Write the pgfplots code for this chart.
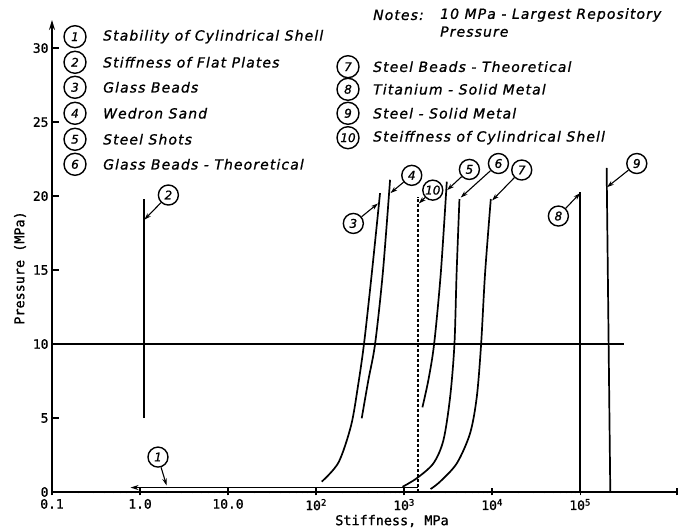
\documentclass[border=0pt]{standalone}
\usepackage{fontspec}
\setmainfont{DejaVu Sans}
\newfontfamily\monofont{DejaVu Sans Mono}[FakeBold=1]
\newfontfamily\lgdfam{DejaVu Sans}[LetterSpace=8, FakeBold=1]
\newfontfamily\numfam{DejaVu Sans}[FakeBold=1]
\usepackage{pgfplots}
\pgfplotsset{compat=1.18}
\usetikzlibrary{arrows.meta}
\newcommand\lgdfont{\lgdfam\fontsize{14}{16}\selectfont\itshape}
\begin{document}
\begin{tikzpicture}[x=1bp,y=1bp,
  num/.style={circle, draw, line width=1.4bp, inner sep=0pt, minimum size=20bp, font=\numfam\fontsize{12}{12}\selectfont\itshape},
  ann/.style={line width=1.1bp, -{Stealth[length=7bp,width=4.5bp]}}]
\begin{axis}[
  at={(52bp,40bp)}, anchor=south west,
  scale only axis, width=625bp, height=472bp,
  xmode=log, xmin=0.1, xmax=1.26e6, ymin=0, ymax=31.9,
  axis x line=bottom, axis y line=left,
  x axis line style={-, line width=1.7bp},
  y axis line style={-{Stealth[length=10bp,width=6bp]}, line width=1.7bp},
  xtick={0.1,1,10,100,1000,10000,100000},
  xticklabels={0.1,1.0,10.0,10\textsuperscript{2},10\textsuperscript{3},10\textsuperscript{4},10\textsuperscript{5}},
  extra x ticks={1.26e6}, extra x tick labels={},
  minor xtick={},
  ytick={0,5,10,15,20,25,30},
  yticklabels={0,5,10,15,20,25,30},
  xtick align=center, ytick align=inside,
  major tick length=7bp,
  every tick/.style={black, line width=1.3bp},
  ticklabel style={font=\monofont\fontsize{13}{14}\selectfont},
  clip=false,
]
% 10 MPa line
\addplot[black, line width=1.6bp] coordinates {(0.1,10) (3.16e5,10)};
% 1 Stability of cylindrical shell
\addplot[black, line width=1.5bp, {Stealth[length=8bp,width=5bp]}-] coordinates {(0.78,0.3) (1450,0.3)};
% 2 Stiffness of flat plates
\addplot[black, line width=1.7bp] coordinates {(1.1,5) (1.1,19.8)};
% 3 Glass beads
\addplot[black, line width=1.7bp, smooth] coordinates {(116,0.70) (180,2.0) (250,4.5) (300,7.2) (351,10.05) (430,14.8) (533,20.2)};
% 4 Wedron sand
\addplot[black, line width=1.7bp, smooth] coordinates {(330,4.98) (393,7.57) (468,10) (573,14.8) (693,21.1)};
% 10 Stiffness of cylindrical shell
\addplot[black, line width=1.5bp, dash pattern=on 3bp off 2bp] coordinates {(1442,0) (1442,19.95)};
% 5 Steel shots
\addplot[black, line width=1.7bp, smooth] coordinates {(1614,5.72) (1888,7.57) (2193,10) (2612,14.8) (3055,20.97)};
% 6 Glass beads theoretical
\addplot[black, line width=1.7bp, smooth] coordinates {(960,0.35) (1393,0.93) (2155,1.94) (2800,3.51) (3337,6.44) (3733,10) (3950,14.8) (4254,19.8)};
% 7 Steel beads theoretical
\addplot[black, line width=1.7bp, smooth] coordinates {(2000,0.2) (2565,0.7) (3975,1.94) (5620,3.97) (6700,6.44) (7500,10) (8320,14.8) (9660,19.8)};
% 8 Titanium
\addplot[black, line width=1.7bp] coordinates {(1e5,0) (1e5,20.3)};
% 9 Steel
\addplot[black, line width=1.7bp] coordinates {(2.2e5,0) (2.0e5,21.9)};
% annotations
\node[num] (n1) at (axis cs:1.6,2.36) {1};
\draw[ann] (n1) -- (axis cs:2.0,0.45);
\node[num] (n2) at (axis cs:2.1,20.07) {2};
\draw[ann] (n2) -- (axis cs:1.12,18.4);
\node[num] (n3) at (axis cs:265,18.15) {3};
\draw[ann] (n3) -- (axis cs:505,19.5);
\node[num] (n4) at (axis cs:1222,21.4) {4};
\draw[ann] (n4) -- (axis cs:700,20.2);
\node[num] (n10) at (axis cs:2118,20.4) {10};
\draw[ann] (n10) -- (axis cs:1470,19.5);
\node[num] (n5) at (axis cs:5520,21.8) {5};
\draw[ann] (n5) -- (axis cs:3080,20.4);
\node[num] (n6) at (axis cs:11800,22.2) {6};
\draw[ann] (n6) -- (axis cs:4400,19.9);
\node[num] (n7) at (axis cs:21700,21.76) {7};
\draw[ann] (n7) -- (axis cs:10000,19.7);
\node[num] (n8) at (axis cs:56600,18.65) {8};
\draw[ann] (n8) -- (axis cs:1e5,20.2);
\node[num] (n9) at (axis cs:4.4e5,22.2) {9};
\draw[ann] (n9) -- (axis cs:2.02e5,20.6);
\end{axis}
% axis labels
\node[rotate=90, font=\monofont\fontsize{13.5}{15}\selectfont] at (20,264) {Pressure (MPa)};
\node[font=\monofont\fontsize{13.5}{15}\selectfont] at (392,11) {Stiffness, MPa};
% legend left
\foreach \n/\y/\t in {1/495.3/Stability of Cylindrical Shell, 2/469.7/Stiffness of Flat Plates, 3/444.7/Glass Beads, 4/418.7/Wedron Sand, 5/392.7/Steel Shots, 6/367.7/Glass Beads - Theoretical}{
  \node[num, minimum size=22bp] at (75,\y) {\n};
  \node[anchor=west, font=\lgdfont, inner sep=0pt] at (103,\y) {\t};
}
\foreach \n/\y/\t in {7/465.3/Steel Beads - Theoretical, 8/442.7/Titanium - Solid Metal, 9/418.7/Steel - Solid Metal, 10/394.3/Steiffness of Cylindrical Shell}{
  \node[num, minimum size=22bp] at (348,\y) {\n};
  \node[anchor=west, font=\lgdfont, inner sep=0pt] at (373,\y) {\t};
}
\node[anchor=west, font=\lgdfont, inner sep=0pt] at (373,517) {Notes:};
\node[anchor=west, font=\lgdfont, inner sep=0pt] at (440,517) {10 MPa - Largest Repository};
\node[anchor=west, font=\lgdfont, inner sep=0pt] at (440,500.3) {Pressure};
\pgfresetboundingbox
\path (0,0) rectangle (688,532);
\end{tikzpicture}
\end{document}
